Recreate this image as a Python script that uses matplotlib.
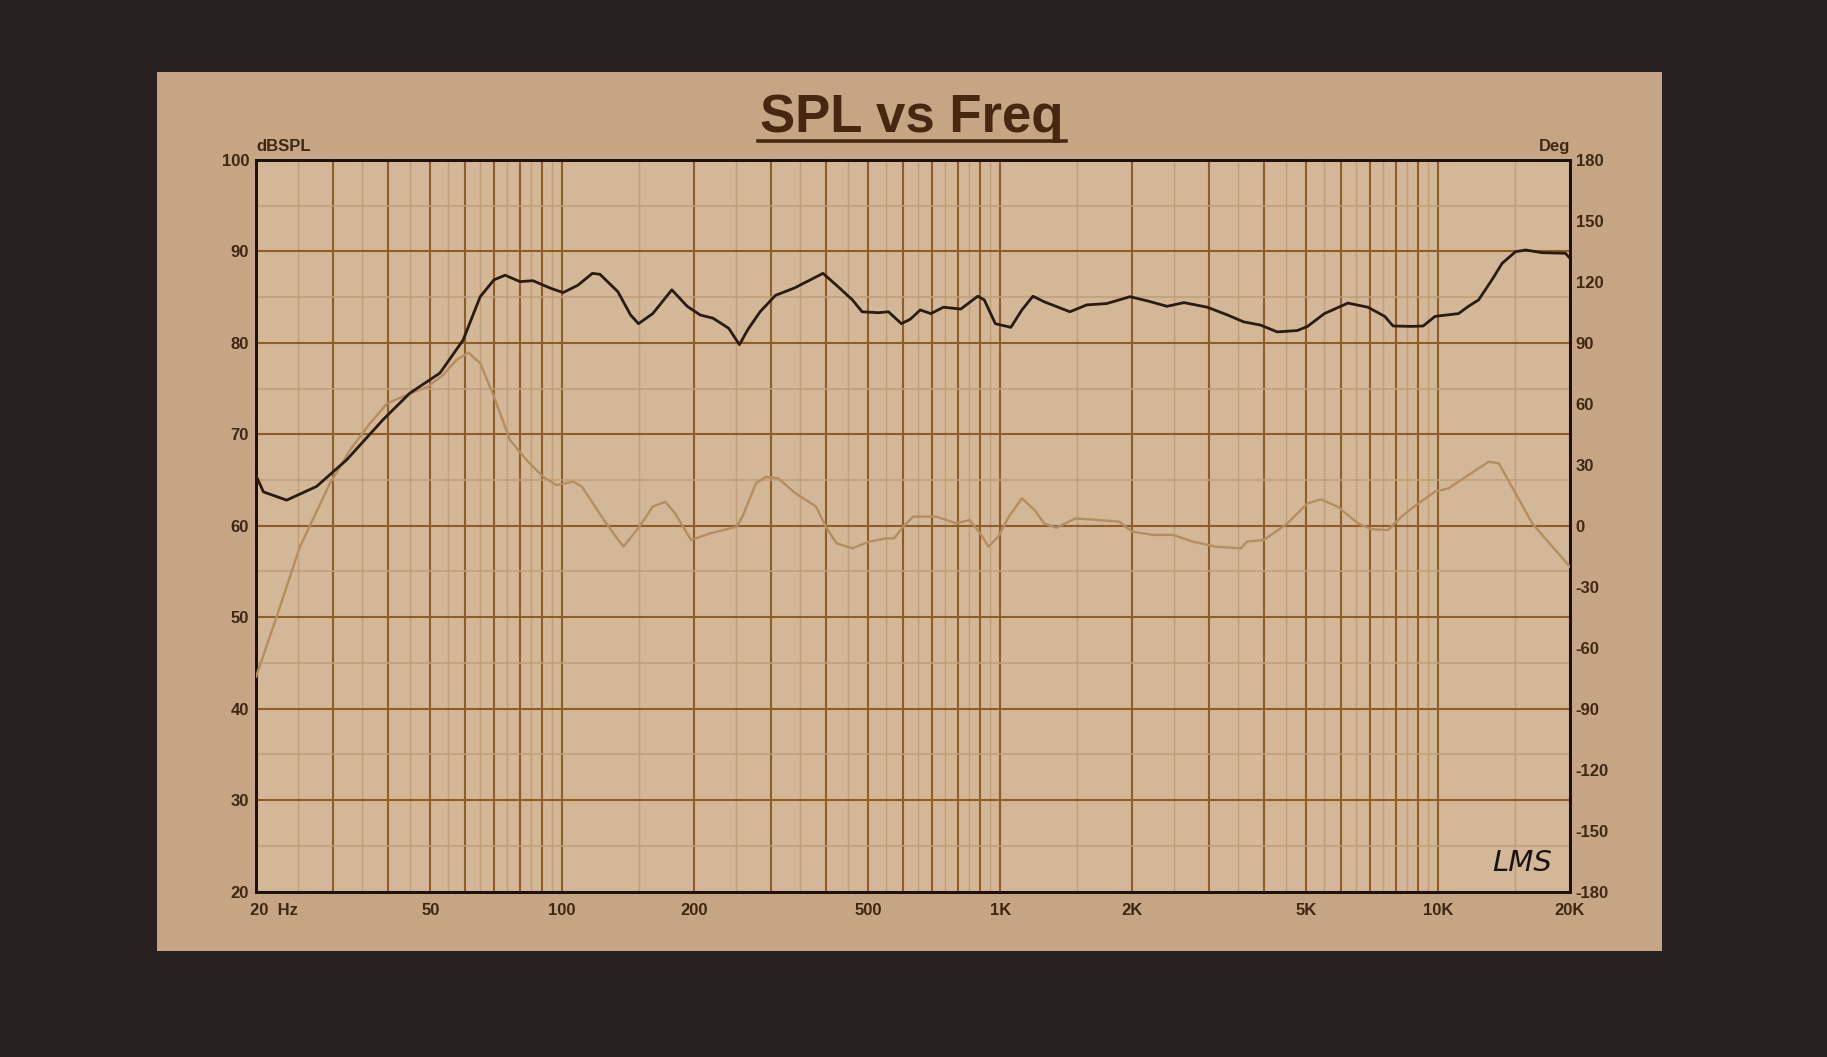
import matplotlib
matplotlib.use('Agg')
import matplotlib.pyplot as plt
from matplotlib.ticker import FixedLocator, FixedFormatter, NullFormatter
from matplotlib.patches import Rectangle
from matplotlib.lines import Line2D
import matplotlib.transforms as mtransforms

# ---------------- data ----------------
spl_freq = [20, 20.8, 23.5, 27.5, 32.2, 39.0, 44.9, 52.6, 59.4, 65.0,
            69.9, 74.1, 80.1, 85.8, 93.8, 100.5, 108.6, 117.2, 122, 134,
            143.3, 149.4, 161, 178, 193, 206.6, 221, 240, 254, 265,
            283, 307, 339, 394, 423, 460, 484, 527, 556, 595,
            624, 657, 695, 742, 813, 889, 920, 975, 1058, 1121,
            1188, 1260, 1443, 1576, 1751, 1979, 2165, 2405, 2628, 2972,
            3305, 3596, 3928, 4292, 4771, 5032, 5498, 6221, 6912, 7551,
            7889, 8696, 9245, 9838, 11128, 11729, 12369, 13271, 13999, 15019,
            15837, 17289, 19525, 20000]
spl_db = [65.5, 63.7, 62.8, 64.3, 67.2, 71.6, 74.5, 76.7, 80.3, 85.05,
          86.9, 87.4, 86.7, 86.8, 86.0, 85.5, 86.3, 87.6, 87.5, 85.6,
          83.05, 82.1, 83.2, 85.8, 84.0, 83.05, 82.7, 81.6, 79.8, 81.4,
          83.4, 85.2, 86.0, 87.6, 86.3, 84.7, 83.4, 83.3, 83.4, 82.1,
          82.6, 83.6, 83.2, 83.9, 83.7, 85.1, 84.7, 82.1, 81.7, 83.6,
          85.1, 84.5, 83.4, 84.15, 84.3, 85.05, 84.6, 84.0, 84.4, 83.9,
          83.05, 82.3, 81.95, 81.2, 81.35, 81.8, 83.2, 84.35, 83.9, 82.9,
          81.85, 81.8, 81.85, 82.9, 83.2, 84.0, 84.7, 86.9, 88.7, 89.97,
          90.16, 89.86, 89.8, 89.25]

phase_freq = [20, 22.3, 25.2, 29.5, 32.8, 36.4, 39.9, 44.1, 49.3, 53.5,
              57.4, 61.1, 65, 69.9, 76, 82.9, 90.5, 97, 106, 111,
              126, 138, 150, 161, 172, 181, 197, 218, 250, 258,
              277, 292, 311, 341, 380, 400, 423, 460, 503, 550,
              573, 600, 633, 715, 794, 852, 900, 940, 990, 1047,
              1121, 1197, 1260, 1343, 1487, 1684, 1869, 2004, 2228, 2477,
              2750, 3110, 3546, 3660, 4000, 4528, 5032, 5396, 5895, 6557,
              7043, 7689, 8246, 9011, 9838, 10562, 11729, 13043, 13761, 15019,
              16396, 18235, 20000]
phase_deg = [-74.3, -44.7, -10.3, 20.9, 37.3, 50.4, 60.3, 64.3, 68.4, 74.2,
             81.6, 85.2, 80, 63.5, 42.2, 32.4, 24.1, 20, 21.7, 19.2,
             1.2, -10.3, -0.5, 9.4, 11.8, 6.1, -7, -3.7, -0.5, 4.5,
             20.9, 24.1, 23.4, 16.0, 9.4, -0.5, -8.6, -11.1, -7.8, -6.2,
             -6.2, -0.5, 4.5, 4.5, 1.2, 2.8, -3.7, -10.3, -5.4, 4.5,
             13.5, 7.8, 1.2, -1, 3.6, 2.8, 2.0, -2.9, -4.5, -4.5,
             -7.8, -10.3, -11.1, -7.8, -7, 1.2, 11, 13.0, 9.4, 1.2,
             -1.7, -2.1, 4.5, 11, 16.8, 18.4, 25, 31.5, 30.7, 16,
             1.2, -10.3, -20.2]

x_tick_values = [20, 50, 100, 200, 500, 1000, 2000, 5000, 10000, 20000]
x_tick_labels = ['20  Hz', '50', '100', '200', '500', '1K', '2K', '5K', '10K', '20K']
spl_ticks = list(range(20, 101, 10))
spl_minor = list(range(25, 100, 10))
deg_ticks = list(range(-180, 181, 30))

# ---------------- styling ----------------
W, H = 1827, 1057
FRAME = '#272220'
PANEL = '#c6a584'
FACE = '#d3b897'
DARK_GRID = '#8f5e24'
FAINT_GRID = '#bf9f7a'
TEXT = '#3e2812'
FONT = ['Liberation Sans', 'DejaVu Sans']
LS = 12

plt.rcParams['font.family'] = FONT
plt.rcParams['axes.unicode_minus'] = False

fig = plt.figure(figsize=(W / 100, H / 100), dpi=100, facecolor=FRAME)
fig.patches.append(Rectangle((157 / W, 1 - 951 / H), (1662 - 157) / W, (951 - 72) / H,
                             transform=fig.transFigure, facecolor=PANEL,
                             edgecolor='none', zorder=-10))

ax = fig.add_axes([256 / W, 1 - 891.5 / H, (1570 - 256) / W, (891.5 - 160) / H])
ax.set_zorder(1)
ax.set_facecolor(FACE)
ax.set_xscale('log')
ax.set_xlim(20, 20000)
ax.set_ylim(20, 100)

dark_x = [m * 10 ** k for k in range(1, 5) for m in range(1, 10)]
dark_x = [v for v in dark_x if 20 < v < 20000]
faint_x = [(m + 0.5) * 10 ** k for k in range(1, 5) for m in range(1, 10)]
faint_x = [v for v in faint_x if 20 < v < 20000]

ax.xaxis.set_major_locator(FixedLocator(x_tick_values))
ax.xaxis.set_major_formatter(FixedFormatter(x_tick_labels))
ax.xaxis.set_minor_locator(FixedLocator(dark_x))
ax.xaxis.set_minor_formatter(NullFormatter())
ax.yaxis.set_major_locator(FixedLocator(spl_ticks))
ax.yaxis.set_minor_locator(FixedLocator(spl_minor))
ax.yaxis.set_minor_formatter(NullFormatter())

for v in faint_x:
    ax.axvline(v, color=FAINT_GRID, lw=1.0, zorder=0.5)
ax.grid(which='major', axis='x', color=DARK_GRID, lw=1.5, zorder=1)
ax.grid(which='minor', axis='x', color=DARK_GRID, lw=1.5, zorder=1)
ax.grid(which='major', axis='y', color=DARK_GRID, lw=1.5, zorder=1)
ax.grid(which='minor', axis='y', color=FAINT_GRID, lw=1.1, zorder=0.5)
ax.set_axisbelow(True)

ax.tick_params(which='both', length=0)
ax.tick_params(axis='y', pad=5, labelsize=LS, labelcolor=TEXT)
ax.tick_params(axis='x', pad=8, labelsize=LS, labelcolor=TEXT)
for lab in ax.get_xticklabels() + ax.get_yticklabels():
    lab.set_fontweight('bold')
first = ax.get_xticklabels()[0]
first.set_horizontalalignment('left')
first.set_transform(first.get_transform() +
                    mtransforms.ScaledTranslation(-6 / 100, 0, fig.dpi_scale_trans))

ax2 = ax.twinx()
ax2.set_zorder(2)
ax2.patch.set_visible(False)
ax2.set_ylim(-180, 180)
ax2.yaxis.set_major_locator(FixedLocator(deg_ticks))
ax2.tick_params(which='both', length=0, pad=4, labelsize=LS, labelcolor=TEXT)
for lab in ax2.get_yticklabels():
    lab.set_fontweight('bold')

for a in (ax, ax2):
    for s in a.spines.values():
        s.set_color('#1a120c')
        s.set_linewidth(2.0)

# curves
ax2.plot(phase_freq, phase_deg, color='#b38e62', lw=1.7, zorder=3)
ax2.plot(spl_freq, spl_db, color='#2a1b10', lw=2.0, zorder=4, transform=ax.transData)
ax2.set_xlim(20, 20000)
ax2.set_ylim(-180, 180)

# axis captions
off = mtransforms.ScaledTranslation(0, 9 / 100, fig.dpi_scale_trans)
ax.text(0.0, 1.0, 'dBSPL', transform=ax.transAxes + off,
        ha='left', va='baseline', fontsize=LS, fontweight='bold', color=TEXT)
ax.text(1.0, 1.0, 'Deg', transform=ax.transAxes + off,
        ha='right', va='baseline', fontsize=LS, fontweight='bold', color=TEXT)

# title with underline
title = fig.text(912 / W, 1 - 131.7 / H, 'SPL vs Freq', ha='center', va='baseline',
                 fontsize=38, fontweight='bold', color='#47270f')
fig.canvas.draw()
bb = title.get_window_extent()
uy = 1 - 141 / H
fig.add_artist(Line2D([(bb.x0 - 2) / W, (bb.x1 + 2) / W], [uy, uy],
                      transform=fig.transFigure, color='#47270f', lw=2.6))

# LMS mark
fig.text(1522 / W, 1 - 863 / H, 'LMS', ha='center', va='center', fontsize=21,
         fontstyle='italic', color='#1a120c', family=['DejaVu Sans'], zorder=5)

fig.savefig('out.png', dpi=100, facecolor=fig.get_facecolor())
